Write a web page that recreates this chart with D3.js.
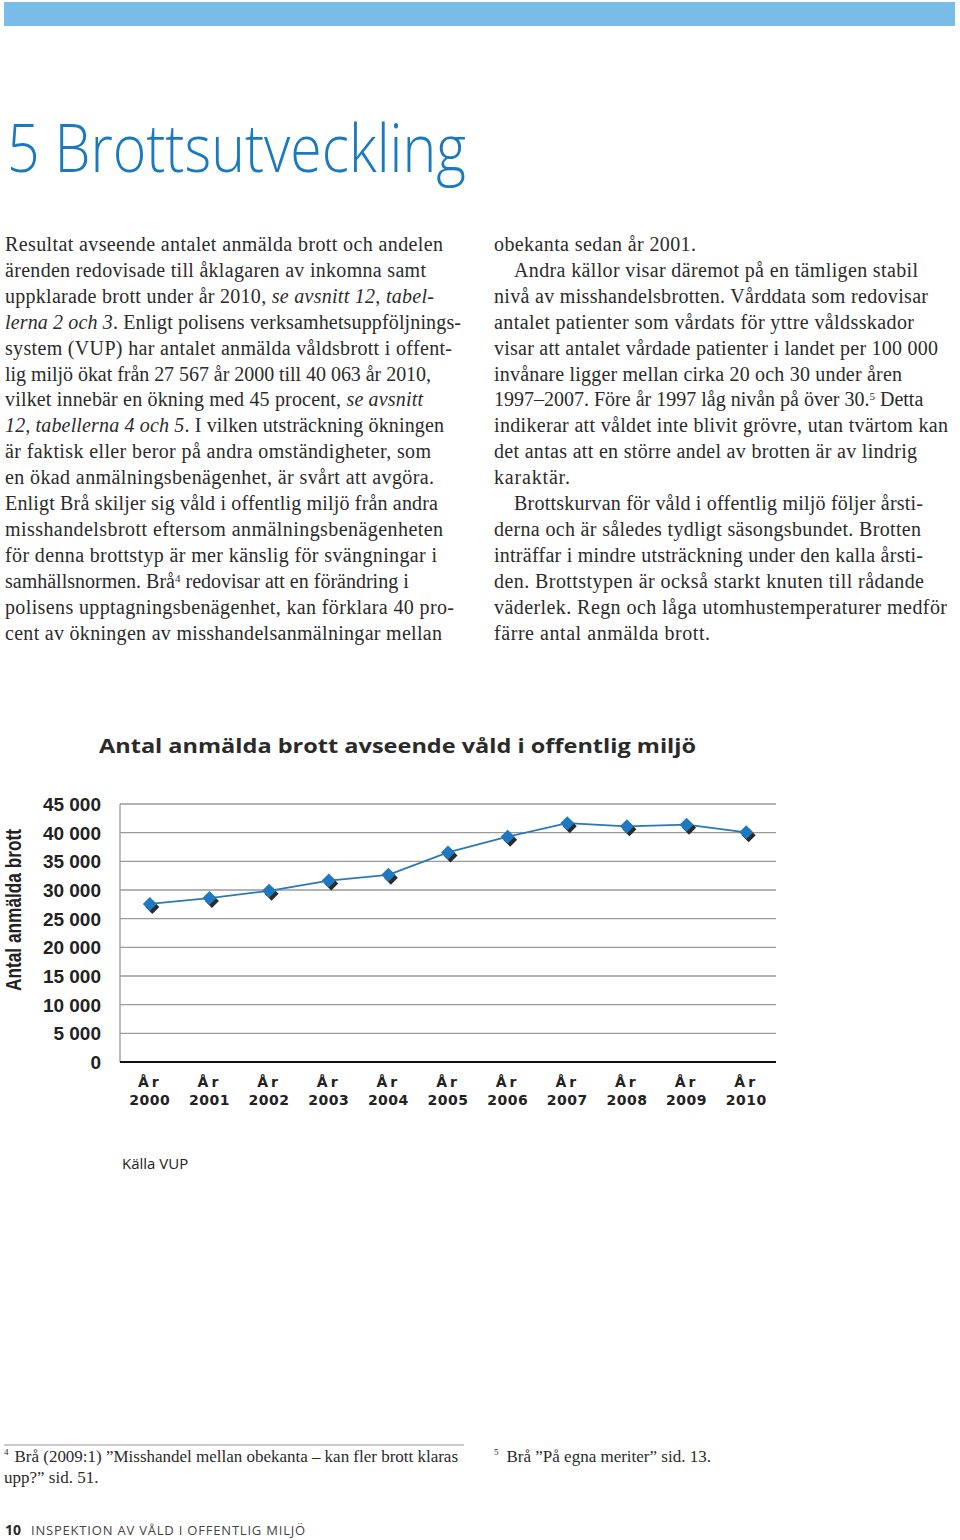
<!DOCTYPE html>
<html><head><meta charset="utf-8">
<script src="https://cdn.jsdelivr.net/npm/d3@7"></script>
<style>
html,body{margin:0;padding:0;background:#fff;}
svg{display:block;}
</style></head>
<body>
<script>
// ---- data ----
const years = ["2000","2001","2002","2003","2004","2005","2006","2007","2008","2009","2010"];
const reported = [27567, 28600, 29850, 31650, 32650, 36550, 39300, 41650, 41100, 41400, 40063];
const yTicks = [0, 5000, 10000, 15000, 20000, 25000, 30000, 35000, 40000, 45000];
const xPrefix = "År";
const chartTitle = "Antal anmälda brott avseende våld i offentlig miljö";
const yTitle = "Antal anmälda brott";
const sourceText = "Källa VUP";

// body text lines: [segments], segment = [text, style]  style: n normal, i italic, s superscript
const leftLines = [
  [["Resultat avseende antalet anmälda brott och andelen","n"]],
  [["ärenden redovisade till åklagaren av inkomna samt","n"]],
  [["uppklarade brott under år 2010, ","n"],["se avsnitt 12, tabel-","i"]],
  [["lerna 2 och 3","i"],[". Enligt polisens verksamhetsuppföljnings-","n"]],
  [["system (VUP) har antalet anmälda våldsbrott i offent-","n"]],
  [["lig miljö ökat från 27 567 år 2000 till 40 063 år 2010,","n"]],
  [["vilket innebär en ökning med 45 procent, ","n"],["se avsnitt","i"]],
  [["12, tabellerna 4 och 5","i"],[". I vilken utsträckning ökningen","n"]],
  [["är faktisk eller beror på andra omständigheter, som","n"]],
  [["en ökad anmälningsbenägenhet, är svårt att avgöra.","n"]],
  [["Enligt Brå skiljer sig våld i offentlig miljö från andra","n"]],
  [["misshandelsbrott eftersom anmälningsbenägenheten","n"]],
  [["för denna brottstyp är mer känslig för svängningar i","n"]],
  [["samhällsnormen. Brå","n"],["4","s"],[" redovisar att en förändring i","n"]],
  [["polisens upptagningsbenägenhet, kan förklara 40 pro-","n"]],
  [["cent av ökningen av misshandelsanmälningar mellan","n"]]
];
const leftEnds = [443,426,434,461,452,431,423,444,431,434,438,443,437,428,454,442];
const rightLines = [
  [["obekanta sedan år 2001.","n"]],
  [["Andra källor visar däremot på en tämligen stabil","n"]],
  [["nivå av misshandelsbrotten. Vårddata som redovisar","n"]],
  [["antalet patienter som vårdats för yttre våldsskador","n"]],
  [["visar att antalet vårdade patienter i landet per 100 000","n"]],
  [["invånare ligger mellan cirka 20 och 30 under åren","n"]],
  [["1997–2007. Före år 1997 låg nivån på över 30.","n"],["5","s"],[" Detta","n"]],
  [["indikerar att våldet inte blivit grövre, utan tvärtom kan","n"]],
  [["det antas att en större andel av brotten är av lindrig","n"]],
  [["karaktär.","n"]],
  [["Brottskurvan för våld i offentlig miljö följer årsti-","n"]],
  [["derna och är således tydligt säsongsbundet. Brotten","n"]],
  [["inträffar i mindre utsträckning under den kalla årsti-","n"]],
  [["den. Brottstypen är också starkt knuten till rådande","n"]],
  [["väderlek. Regn och låga utomhustemperaturer medför","n"]],
  [["färre antal anmälda brott.","n"]]
];
const rightIndent = [0,1,0,0,0,0,0,0,0,0,1,0,0,0,0,0];
const rightEnds = [696,918,928,914,938,902,931,948,917,570,923,921,923,924,947,710];

// ---- drawing ----
const W = 960, H = 1540;
const svg = d3.select("body").append("svg").attr("width", W).attr("height", H);

// header bar
svg.append("rect").attr("x",4).attr("y",2).attr("width",951).attr("height",24).attr("fill","#79bce8");

// chapter title
svg.append("text").attr("x",7).attr("y",172)
  .attr("font-family","'Open Sans', 'Noto Sans', sans-serif").attr("font-weight",300)
  .attr("font-size",66).attr("fill","#1b7abf")
  .attr("textLength",459).attr("lengthAdjust","spacingAndGlyphs")
  .text("5 Brottsutveckling");

// body text
const serif = "'Liberation Serif','DejaVu Serif',serif";
function drawLines(lines, x0, ends, indents){
  lines.forEach((segs,i)=>{
    const xs = x0 + (indents && indents[i] ? 20 : 0);
    const t = svg.append("text").attr("x",xs).attr("y",251 + i*25.9)
      .attr("font-family",serif).attr("font-size",20).attr("fill","#2b2b2b");
    segs.forEach(([s,st])=>{
      const ts = t.append("tspan").text(s);
      if(st==="i") ts.attr("font-style","italic");
      if(st==="s") ts.attr("font-size",11).attr("baseline-shift","super");
    });
    const hasSup = segs.some(s=>s[1]==="s");
    if(!hasSup) t.attr("textLength", ends[i]-xs).attr("lengthAdjust","spacing");
  });
}
drawLines(leftLines, 5, leftEnds, null);
drawLines(rightLines, 494, rightEnds, rightIndent);

// ---- chart ----
const pLeft = 120, pRight = 776, pTop = 804, pBottom = 1062;
const x = d3.scalePoint().domain(years).range([pLeft, pRight]).padding(0.5);
const y = d3.scaleLinear().domain([0,45000]).range([pBottom, pTop]);
const fmt = d3.formatLocale({decimal:",", thousands:" ", grouping:[3], currency:["",""]}).format(",d");

svg.append("text").attr("x",99).attr("y",753)
  .attr("font-family","'Open Sans','Noto Sans',sans-serif").attr("font-weight",700)
  .attr("font-size",20).attr("fill","#2a2a2a")
  .attr("textLength",597).attr("lengthAdjust","spacingAndGlyphs")
  .text(chartTitle);

// gridlines
const g = svg.append("g");
g.selectAll("line.grid").data(yTicks.filter(d=>d>0)).join("line")
  .attr("x1",pLeft).attr("x2",pRight).attr("y1",d=>y(d)).attr("y2",d=>y(d))
  .attr("stroke","#9a9a9a").attr("stroke-width",1.3);
g.append("line").attr("x1",pLeft).attr("x2",pLeft).attr("y1",pTop).attr("y2",pBottom)
  .attr("stroke","#9a9a9a").attr("stroke-width",1.3);
g.append("line").attr("x1",pLeft).attr("x2",pRight).attr("y1",pBottom).attr("y2",pBottom)
  .attr("stroke","#111").attr("stroke-width",2);

// y tick labels
g.selectAll("text.ytick").data(yTicks).join("text")
  .attr("x",101).attr("y",d=>y(d)+7)
  .attr("text-anchor","end")
  .attr("font-family","'Liberation Sans',Arial,sans-serif").attr("font-weight",700)
  .attr("font-size",19).attr("fill","#222")
  .text(d=>fmt(d));

// y title
svg.append("text")
  .attr("transform","translate(21,910) rotate(-90)")
  .attr("text-anchor","middle")
  .attr("font-family","'Liberation Sans Narrow','Liberation Sans',Arial,sans-serif").attr("font-weight",700)
  .attr("font-size",22).attr("fill","#222")
  .attr("textLength",162).attr("lengthAdjust","spacingAndGlyphs")
  .text(yTitle);

// x labels
const xl = g.selectAll("g.xl").data(years).join("g").attr("transform",d=>`translate(${x(d)},0)`);
xl.append("text").attr("y",1087).attr("text-anchor","middle")
  .attr("font-family","'DejaVu Sans',Verdana,sans-serif").attr("font-weight",700)
  .attr("font-size",14).attr("letter-spacing",3).attr("fill","#222")
  .text(xPrefix);
xl.append("text").attr("y",1105).attr("text-anchor","middle")
  .attr("font-family","'DejaVu Sans',Verdana,sans-serif").attr("font-weight",700)
  .attr("font-size",14).attr("letter-spacing",0.5).attr("fill","#222")
  .text(d=>d);

// line
const line = d3.line().x((d,i)=>x(years[i])).y(d=>y(d));
g.append("path").datum(reported).attr("d",line)
  .attr("fill","none").attr("stroke","#2a79b5").attr("stroke-width",1.8);

// markers (shadow + diamond)
const diamond = "M0,-7L7,0L0,7L-7,0Z";
g.selectAll("path.sh").data(reported).join("path")
  .attr("d",diamond).attr("transform",(d,i)=>`translate(${x(years[i])+2.5},${y(d)+3})`)
  .attr("fill","#2b2b2b");
g.selectAll("path.mk").data(reported).join("path")
  .attr("d",diamond).attr("transform",(d,i)=>`translate(${x(years[i])},${y(d)})`)
  .attr("fill","#1f78c2");

// source
svg.append("text").attr("x",122).attr("y",1169)
  .attr("font-family","'Open Sans','Noto Sans',sans-serif").attr("font-size",15).attr("fill","#222")
  .text(sourceText);

// footnotes
svg.append("line").attr("x1",4).attr("x2",464).attr("y1",1445).attr("y2",1445).attr("stroke","#999").attr("stroke-width",1);
const fn1 = svg.append("text").attr("x",4).attr("y",1462).attr("font-family",serif).attr("font-size",17).attr("fill","#2b2b2b")
  .attr("textLength",454).attr("lengthAdjust","spacing");
fn1.append("tspan").attr("font-size",9).attr("dy",-7).text("4");
fn1.append("tspan").attr("dx",6).attr("dy",7).text("Brå (2009:1) ”Misshandel mellan obekanta – kan fler brott klaras");
svg.append("text").attr("x",4).attr("y",1483).attr("font-family",serif).attr("font-size",17).attr("fill","#2b2b2b")
  .text("upp?” sid. 51.");
const fn2 = svg.append("text").attr("x",494).attr("y",1462).attr("font-family",serif).attr("font-size",17).attr("fill","#2b2b2b");
fn2.append("tspan").attr("font-size",9).attr("dy",-7).text("5");
fn2.append("tspan").attr("dx",8).attr("dy",7).text("Brå ”På egna meriter” sid. 13.");

// footer
const ft = svg.append("text").attr("x",5).attr("y",1535).attr("font-family","'Open Sans','Noto Sans',sans-serif").attr("fill","#2b2b2b");
ft.append("tspan").attr("font-weight",700).attr("font-size",14).text("10");
ft.append("tspan").attr("dx",10).attr("font-size",13).attr("letter-spacing",0.8).attr("fill","#444").text("INSPEKTION AV VÅLD I OFFENTLIG MILJÖ");
</script>
</body></html>
